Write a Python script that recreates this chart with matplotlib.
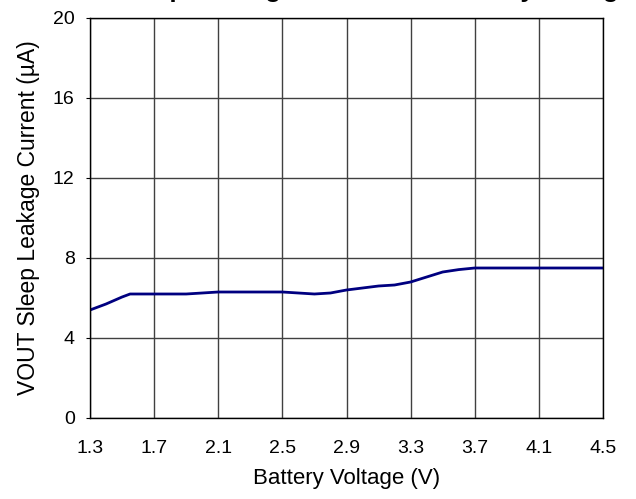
import matplotlib
matplotlib.use("Agg")
import matplotlib.pyplot as plt

plt.rcParams['font.family'] = ['Liberation Sans', 'DejaVu Sans']

# battery voltage (V) and VOUT sleep leakage current (uA)
voltage = [1.3, 1.4, 1.5, 1.55, 1.6, 1.9, 2.1, 2.5, 2.7, 2.8, 2.9, 3.0,
           3.1, 3.2, 3.3, 3.4, 3.5, 3.6, 3.7, 4.1, 4.5]
current = [5.4, 5.7, 6.05, 6.2, 6.2, 6.2, 6.3, 6.3, 6.2, 6.25, 6.4, 6.5,
           6.6, 6.65, 6.8, 7.05, 7.3, 7.42, 7.5, 7.5, 7.5]

xticks = [1.3, 1.7, 2.1, 2.5, 2.9, 3.3, 3.7, 4.1, 4.5]
yticks = [0, 4, 8, 12, 16, 20]

fig = plt.figure(figsize=(6.36, 4.99), dpi=100)
ax = fig.add_axes([90/636, 1 - 418/499, 513/636, 400/499])

ax.plot(voltage, current, color='#000080', linewidth=2)

ax.set_xlim(1.3, 4.5)
ax.set_ylim(0, 20)
ax.set_xticks(xticks)
ax.set_xticklabels([f"{v:.1f}" for v in xticks])
ax.set_yticks(yticks)
ax.grid(True, color='#404040', linewidth=1)
ax.set_axisbelow(True)
for s in ax.spines.values():
    s.set_color('black')
    s.set_linewidth(1)
ax.tick_params(axis='x', labelsize=14, length=0, pad=16)
ax.tick_params(axis='y', labelsize=14, length=3, direction='out', pad=8)

ax.set_xlabel("Battery Voltage (V)", fontsize=16, labelpad=8)
ax.set_ylabel("VOUT Sleep Leakage Current (\u00b5A)", fontsize=16.5, labelpad=9)
fig.text(335/636, 1 + 3/499, "VOUT Sleep Leakage Current vs. Battery Voltage",
         ha='center', va='baseline', fontsize=18.5, fontweight='bold')

fig.savefig("out.png", dpi=100)
